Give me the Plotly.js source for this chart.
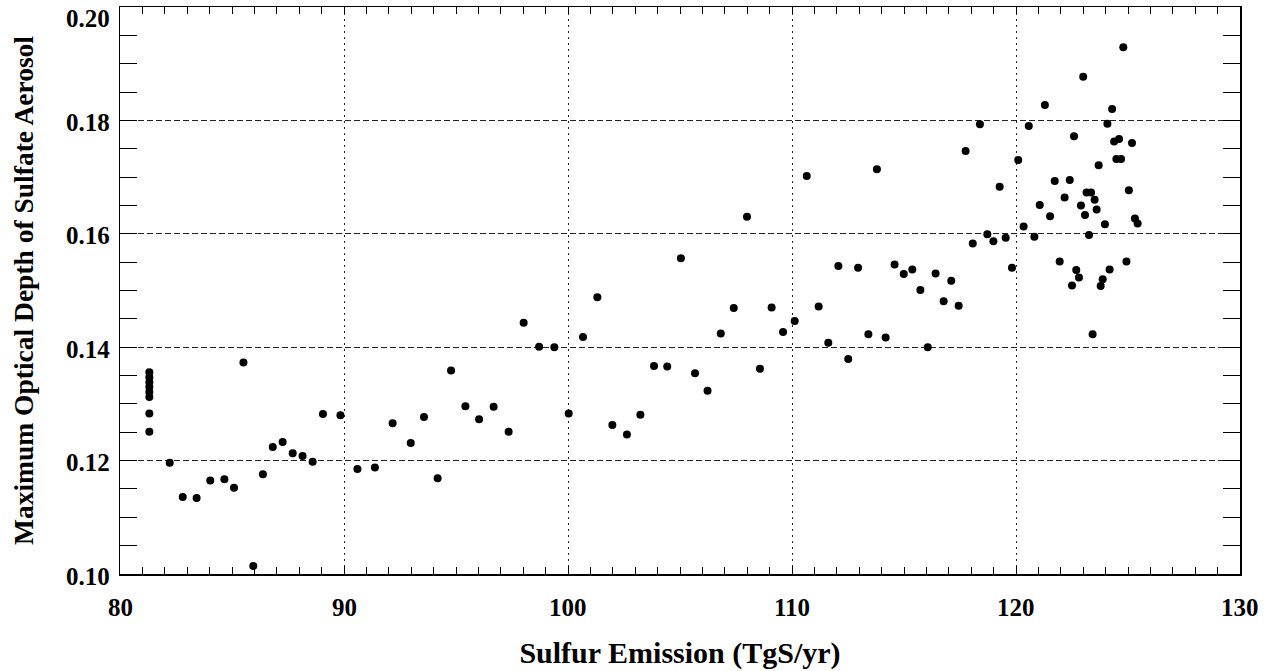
<!DOCTYPE html>
<html>
<head>
<meta charset="utf-8">
<script src="https://cdn.plot.ly/plotly-3.0.1.min.js"></script>
<style>
  html, body { margin: 0; padding: 0; background: #ffffff; }
  #chart { width: 1265px; height: 671px; }
</style>
</head>
<body>
<div id="chart"></div>
<script>
// Annual sulfur emission (TgS/yr) against peak sulfate aerosol optical depth
const emission = [
  81.31, 81.31, 81.31, 81.31, 81.31, 81.31, 81.31, 81.31,
  82.22, 82.80, 83.42, 84.03, 84.66, 85.09, 85.51, 85.95, 86.38, 86.82,
  87.26, 87.71, 88.15, 88.60, 89.06, 89.84, 90.60, 91.38, 92.17, 92.98,
  93.57, 94.18, 94.78, 95.42, 96.03, 96.68, 97.35, 98.02, 98.71, 99.39,
  100.03, 100.67, 101.31, 101.98, 102.63, 103.23, 103.84, 104.43, 105.04, 105.67,
  106.23, 106.82, 107.40, 107.99, 108.57, 109.09, 109.60, 110.12, 110.66, 111.19,
  111.62, 112.07, 112.51, 112.95, 113.41, 113.79, 114.18, 114.58, 114.99, 115.37,
  115.73, 116.06, 116.41, 116.77, 117.11, 117.44, 117.75, 118.07, 118.39, 118.72,
  118.99, 119.27, 119.54, 119.82, 120.10, 120.34, 120.57, 120.82, 121.06, 121.29,
  121.52, 121.73, 121.95, 122.17, 122.40, 122.50, 122.59, 122.69, 122.81, 122.90,
  123.00, 123.08, 123.15, 123.26, 123.35, 123.42, 123.51, 123.60, 123.69, 123.78,
  123.87, 123.97, 124.08, 124.18, 124.29, 124.38, 124.48, 124.60, 124.69, 124.79,
  124.93, 125.04, 125.18, 125.31, 125.43
];

const opticalDepth = [
  0.1356, 0.1347, 0.1338, 0.1330, 0.1321, 0.1312, 0.1283, 0.1251,
  0.1196, 0.1136, 0.1134, 0.1165, 0.1167, 0.1152, 0.1373, 0.1014, 0.1176, 0.1224,
  0.1233, 0.1213, 0.1208, 0.1198, 0.1282, 0.1280, 0.1185, 0.1188, 0.1266, 0.1231,
  0.1277, 0.1169, 0.1359, 0.1296, 0.1273, 0.1295, 0.1251, 0.1443, 0.1401, 0.1400,
  0.1283, 0.1418, 0.1488, 0.1263, 0.1246, 0.1281, 0.1367, 0.1366, 0.1557, 0.1354,
  0.1323, 0.1424, 0.1469, 0.1630, 0.1362, 0.1470, 0.1427, 0.1446, 0.1702, 0.1472,
  0.1408, 0.1543, 0.1379, 0.1540, 0.1423, 0.1714, 0.1417, 0.1546, 0.1529, 0.1537,
  0.1501, 0.1400, 0.1530, 0.1481, 0.1517, 0.1473, 0.1746, 0.1583, 0.1793, 0.1599,
  0.1587, 0.1683, 0.1593, 0.1540, 0.1730, 0.1613, 0.1790, 0.1595, 0.1651, 0.1827,
  0.1631, 0.1693, 0.1551, 0.1664, 0.1695, 0.1509, 0.1772, 0.1536, 0.1523, 0.1650,
  0.1877, 0.1633, 0.1673, 0.1598, 0.1673, 0.1423, 0.1660, 0.1643, 0.1721, 0.1508,
  0.1520, 0.1617, 0.1794, 0.1537, 0.1820, 0.1763, 0.1732, 0.1767, 0.1732, 0.1929,
  0.1551, 0.1677, 0.1760, 0.1627, 0.1618
];

// Axis tick positions and their printed labels
const xTickVals = [80, 90, 100, 110, 120, 130];
const xTickText = ['80', '90', '100', '110', '120', '130'];
const yTickVals = [0.10, 0.12, 0.14, 0.16, 0.18, 0.20];
const yTickText = ['0.10', '0.12', '0.14', '0.16', '0.18', '0.20'];

const xTitle = 'Sulfur Emission (TgS/yr)';
const yTitle = 'Maximum Optical Depth of Sulfate Aerosol';

const serif = 'Liberation Serif, Times New Roman, serif';
const bold = (s) => '<b>' + s + '</b>';
const labelFont = () => ({ family: serif, size: 25, weight: 'bold', color: '#000000' });

// Tick labels are set as bold annotations pinned to the axis values.
// The top y label is nudged down so it stays inside the figure.
const lastY = yTickVals.length - 1;
const xLabels = xTickVals.map((v, i) => ({
  text: bold(xTickText[i]),
  xref: 'x', x: v, xanchor: 'center',
  yref: 'paper', y: 0, yanchor: 'top', yshift: -18,
  showarrow: false, font: labelFont()
}));
const yLabels = yTickVals.map((v, i) => ({
  text: bold(yTickText[i]),
  xref: 'paper', x: 0, xanchor: 'right', xshift: -8,
  yref: 'y', y: v, yanchor: 'middle', yshift: i === lastY ? -11 : -2,
  showarrow: false, font: labelFont()
}));

const trace = {
  type: 'scatter',
  mode: 'markers',
  x: emission,
  y: opticalDepth,
  marker: { color: '#000000', size: 8, line: { width: 0 } },
  hoverinfo: 'x+y'
};

const layout = {
  width: 1265,
  height: 671,
  margin: { l: 120, r: 25, t: 7, b: 97 },
  paper_bgcolor: '#ffffff',
  plot_bgcolor: '#ffffff',
  showlegend: false,
  font: { family: serif, color: '#000000', weight: 'bold' },
  xaxis: {
    range: [80, 130],
    tickmode: 'array',
    tickvals: xTickVals,
    showticklabels: false,
    ticks: 'inside',
    ticklen: 7,
    tickwidth: 1,
    tickcolor: '#000000',
    minor: { tick0: 80, dtick: 1, ticks: 'inside', ticklen: 7, tickwidth: 1, tickcolor: '#000000', showgrid: false },
    showline: true,
    linecolor: '#000000',
    linewidth: 1.5,
    mirror: 'ticks',
    showgrid: true,
    gridcolor: '#222222',
    gridwidth: 1,
    griddash: '2px,4px',
    zeroline: false,
    title: {
      text: bold(xTitle),
      font: { family: serif, size: 30, weight: 'bold', color: '#000000' },
      standoff: 67
    }
  },
  yaxis: {
    range: [0.10, 0.20],
    tickmode: 'array',
    tickvals: yTickVals,
    showticklabels: false,
    ticks: 'inside',
    ticklen: 17,
    tickwidth: 1,
    tickcolor: '#000000',
    minor: { tick0: 0.10, dtick: 0.005, ticks: 'inside', ticklen: 17, tickwidth: 1, tickcolor: '#000000', showgrid: false },
    showline: true,
    linecolor: '#000000',
    linewidth: 1.5,
    mirror: 'ticks',
    showgrid: true,
    gridcolor: '#222222',
    gridwidth: 1,
    griddash: '6px,3px',
    zeroline: false,
    title: {
      text: bold(yTitle),
      font: { family: serif, size: 27.5, weight: 'bold', color: '#000000' },
      standoff: 77
    }
  },
  annotations: xLabels.concat(yLabels)
};

Plotly.newPlot('chart', [trace], layout, { displayModeBar: false, staticPlot: true });
</script>
</body>
</html>
